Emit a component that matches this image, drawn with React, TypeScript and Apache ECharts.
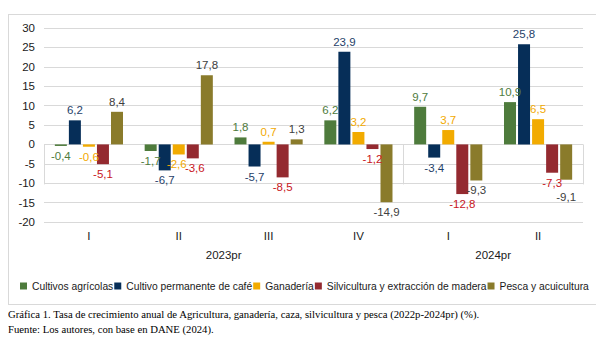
import React, { useEffect, useRef } from "react";
import * as echarts from "echarts";

const categories = ["I", "II", "III", "IV", "I", "II"];
const groupLabels = ["2023pr", "2024pr"];
const seriesNames = [
  "Cultivos agrícolas",
  "Cultivo permanente de café",
  "Ganadería",
  "Silvicultura y extracción de madera",
  "Pesca y acuicultura",
];
const cultivos = [-0.4, -1.7, 1.8, 6.2, 9.7, 10.9];
const cafe = [6.2, -6.7, -5.7, 23.9, -3.4, 25.8];
const ganaderia = [-0.6, -2.6, 0.7, 3.2, 3.7, 6.5];
const silvicultura = [-5.1, -3.6, -8.5, -1.2, -12.8, -7.3];
const pesca = [8.4, 17.8, 1.3, -14.9, -9.3, -9.1];
const yTicks = { min: -20, max: 30, interval: 5 };
const caption1 =
  "Gráfica 1. Tasa de crecimiento anual de Agricultura, ganadería, caza, silvicultura y pesca (2022p-2024pr) (%).";
const caption2 = "Fuente: Los autores, con base en DANE (2024).";

const barColors = ["#4E7B3C", "#062E58", "#F2AB00", "#942A30", "#8A7B2B"];
const labelColors = ["#4E7B3C", "#1F3F6A", "#F2A900", "#C8161D", "#404040"];
// manually moved data labels (series index - category index): [dx, dy]
const labelNudges: Record<string, number[]> = {
  "4-5": [0, 7],
  "2-1": [-2, 0],
  "3-1": [2, 0],
};

const SANS = "'Liberation Sans', Arial, sans-serif";
const SERIF = "'Liberation Serif', 'Times New Roman', serif";

export default function App() {
  const ref = useRef<HTMLDivElement>(null);
  useEffect(() => {
    if (!ref.current) return;
    const chart = echarts.init(ref.current, undefined, { renderer: "svg" });
    const allData = [cultivos, cafe, ganaderia, silvicultura, pesca];
    const series = allData.map((arr, i) => ({
      type: "bar",
      name: seriesNames[i],
      xAxisIndex: 0,
      barWidth: 12,
      barGap: "17%",
      itemStyle: { color: barColors[i] },
      label: {
        show: true,
        fontFamily: SANS,
        fontSize: 11.5,
        color: labelColors[i],
        distance: 4,
        formatter: (p: any) => String(p.value).replace(".", ","),
      },
      data: arr.map((v, j) => ({
        value: v,
        label: {
          position: v < 0 ? "bottom" : "top",
          offset: labelNudges[`${i}-${j}`] || [0, 0],
        },
      })),
    }));
    chart.setOption({
      animation: false,
      textStyle: { fontFamily: SANS },
      grid: { left: 36, right: 13, top: 20, bottom: 115, containLabel: false },
      legend: {
        left: 7,
        top: 268,
        width: 592,
        icon: "rect",
        itemWidth: 7,
        itemHeight: 7,
        itemGap: 1,
        textStyle: { fontFamily: SANS, fontSize: 10.3, color: "#1a1a1a" },
        data: seriesNames,
      },
      xAxis: [
        {
          type: "category",
          data: categories,
          position: "bottom",
          axisLine: { show: false, onZero: false },
          axisTick: { show: false },
          axisLabel: { color: "#1a1a1a", fontSize: 11.5, margin: 8, fontFamily: SANS },
          splitLine: { show: false },
        },
        {
          type: "value",
          min: 0,
          max: 6,
          position: "bottom",
          axisLine: { show: false },
          splitLine: { show: false },
          axisTick: {
            show: true,
            length: 40,
            customValues: [0, 4, 6],
            lineStyle: { color: "#d9d9d9", width: 1 },
          },
          axisLabel: {
            show: true,
            customValues: [2, 5],
            margin: 27,
            color: "#1a1a1a",
            fontSize: 11.5,
            fontFamily: SANS,
            formatter: (v: number) => (v < 4 ? groupLabels[0] : groupLabels[1]),
          },
        },
      ],
      yAxis: {
        type: "value",
        min: yTicks.min,
        max: yTicks.max,
        interval: yTicks.interval,
        axisLine: { show: false },
        axisTick: { show: false },
        axisLabel: { color: "#1a1a1a", fontSize: 11.5, margin: 9, fontFamily: SANS },
        splitLine: { lineStyle: { color: "#d9d9d9", width: 1 } },
      },
      graphic: [
        {
          type: "text",
          left: 0,
          top: 300,
          style: { text: caption1, fontFamily: SERIF, fontSize: 10.7, fill: "#000" },
        },
        {
          type: "text",
          left: 0,
          top: 315,
          style: { text: caption2, fontFamily: SERIF, fontSize: 10.7, fill: "#000" },
        },
      ],
      series,
    });
    return () => chart.dispose();
  }, []);
  return (
    <div style={{ position: "relative", width: 588, height: 329 }}>
      <div
        style={{
          position: "absolute",
          left: 0,
          top: 6,
          width: 589,
          height: 291,
          border: "1px solid #d9d9d9",
          boxSizing: "border-box",
        }}
      />
      <div
        ref={ref}
        style={{ position: "absolute", left: 0, top: 0, width: 588, height: 329 }}
      />
    </div>
  );
}
